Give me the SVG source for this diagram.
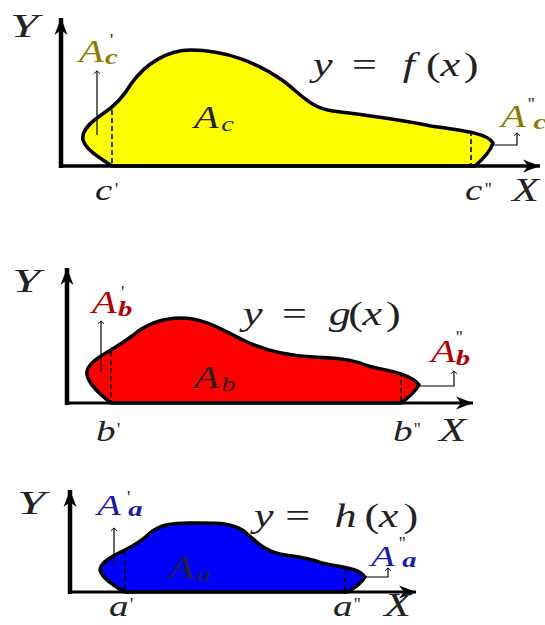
<svg xmlns="http://www.w3.org/2000/svg" width="545" height="625" viewBox="0 0 545 625">
<defs>
<marker id="ah" viewBox="-5 -5 10 10" markerWidth="8" markerHeight="8" markerUnits="userSpaceOnUse" orient="auto" refX="0" refY="0">
<path d="M-3.5,3.5 Q-1,0 0,0 Q1,0 3.5,3.5" transform="rotate(90)" fill="none" stroke="#000" stroke-width="1.2"/>
</marker>
<marker id="axh" viewBox="-17 -7 18 14" markerWidth="18" markerHeight="14" markerUnits="userSpaceOnUse" orient="auto" refX="0" refY="0">
<path d="M0,0 L-17,-6.5 L-12,0 L-17,6.5 Z" fill="#000"/>
</marker>
</defs>
<style>
.ax{stroke:#000;fill:none;stroke-linecap:butt}
.shape{stroke:#000;stroke-width:3.5;stroke-linejoin:round}
.dash{stroke:#000;stroke-width:1.6;stroke-dasharray:5,3;fill:none}
.con{stroke:#000;stroke-width:1.2;fill:none;marker-end:url(#ah)}
.t{font-family:"Liberation Serif","DejaVu Serif",serif;fill:#222}
.i{font-style:italic}
.bi{font-style:italic;font-weight:bold}
.big{font-size:34px}
.mid{font-size:30px}
.pr{font-family:"Liberation Serif","DejaVu Serif",serif;font-size:18px;fill:#222}
.lc{fill:#8c7d00}
.lb{fill:#b40000}
.la{fill:#1a1aa8}
</style>

<!-- Panel 1 -->
<g id="panel-c">
<path class="shape" fill="#ffff00" d="M112,166 C100,158 86,150 83,140 C81,130 92,121 104,113 C116,105 124,96 131,84 C146,63 168,50 191,50 C225,50 258,63 282,80 C300,93 310,108 333,111 C365,115 400,119 431,126 C460,130 488,133 493,143 C490,152 482,160 475,166 Z"/>
<line class="dash" x1="112" y1="110" x2="112" y2="166"/>
<line class="dash" x1="471" y1="131" x2="471" y2="166"/>
<line class="ax" x1="61" y1="168" x2="61" y2="18" stroke-width="4.5" marker-end="url(#axh)"/>
<line class="ax" x1="59" y1="166" x2="540" y2="166" stroke-width="3.5" marker-end="url(#axh)"/>
<text class="t i big" transform="translate(10,37) scale(1.5,1)">Y</text>
<text class="t i big" transform="translate(512,201) scale(1.3,1)">X</text>
<text class="t i mid" transform="translate(95,200) scale(1.3,1)">c</text>
<text class="pr" x="115" y="196">'</text>
<text class="t i mid" transform="translate(465,200) scale(1.3,1)">c</text>
<text class="pr" x="485" y="196">''</text>
<text class="t big" transform="translate(313,76) scale(1.3,1)"><tspan class="i" x="0">y</tspan><tspan x="30">=</tspan><tspan class="i" x="69">f</tspan><tspan x="87">(</tspan><tspan class="i" x="98">x</tspan><tspan x="116">)</tspan></text>
<text class="t" transform="translate(194,128) scale(1.3,1)"><tspan class="i" font-size="31">A</tspan><tspan class="i" font-size="22" x="21" dy="3">c</tspan></text>
</g>
<g id="label-c1">
<path class="con" d="M97,135 L97,71"/>
<text class="t lc" transform="translate(79,62) scale(1.3,1)"><tspan class="i" font-size="31">A</tspan><tspan class="bi" font-size="22" x="20" dy="2">c</tspan></text>
<text class="pr" x="110" y="47">'</text>
</g>
<g id="label-c2">
<path class="con" d="M493,145 L517,145 L517,133"/>
<text class="t lc" transform="translate(501,127) scale(1.3,1)"><tspan class="i" font-size="31">A</tspan><tspan class="bi" font-size="22" x="25" dy="2">c</tspan></text>
<text class="pr" x="528" y="111">''</text>
</g>

<!-- Panel 2 -->
<g id="panel-b">
<path class="shape" fill="#ff0000" d="M111,403 C101,395 89,385 87,375 C85,365 99,357 111,350 C119,345 124,342 132,336 C145,325 162,318 181,318 C205,318 224,331 245,341 C266,351 290,356 313,357 C335,358 352,359 365,365 C380,370 410,372 419,385 C415,392 408,398 401,403 Z"/>
<line class="dash" x1="111" y1="352" x2="111" y2="403"/>
<line class="dash" x1="401" y1="372" x2="401" y2="403"/>
<line class="ax" x1="67" y1="405" x2="67" y2="268" stroke-width="4.5" marker-end="url(#axh)"/>
<line class="ax" x1="65" y1="403" x2="473" y2="403" stroke-width="3" marker-end="url(#axh)"/>
<text class="t i big" transform="translate(12,292) scale(1.5,1)">Y</text>
<text class="t i big" transform="translate(439,441) scale(1.3,1)">X</text>
<text class="t i mid" transform="translate(96,441) scale(1.3,1)">b</text>
<text class="pr" x="117" y="436">'</text>
<text class="t i mid" transform="translate(393,441) scale(1.3,1)">b</text>
<text class="pr" x="414" y="436">''</text>
<text class="t big" transform="translate(243,325) scale(1.3,1)"><tspan class="i" x="0">y</tspan><tspan x="30">=</tspan><tspan class="i" x="66">g</tspan><tspan x="81">(</tspan><tspan class="i" x="92">x</tspan><tspan x="110">)</tspan></text>
<text class="t" transform="translate(194,388) scale(1.3,1)"><tspan class="i" font-size="31">A</tspan><tspan class="i" font-size="22" x="21" dy="3">b</tspan></text>
</g>
<g id="label-b1">
<path class="con" d="M101,372 L101,321"/>
<text class="t lb" transform="translate(92,313) scale(1.3,1)"><tspan class="i" font-size="31">A</tspan><tspan class="bi" font-size="22" x="20" dy="3">b</tspan></text>
<text class="pr" x="121" y="299">'</text>
</g>
<g id="label-b2">
<path class="con" d="M419,386 L454,386 L454,371"/>
<text class="t lb" transform="translate(431,362) scale(1.3,1)"><tspan class="i" font-size="31">A</tspan><tspan class="bi" font-size="22" x="19" dy="3">b</tspan></text>
<text class="pr" x="456" y="344">''</text>
</g>

<!-- Panel 3 -->
<g id="panel-a">
<path class="shape" fill="#0000ff" d="M125,592 C114,586 102,578 100,570 C101,562 112,556 125,550 C135,545 143,540 150,533 C160,525 170,523 190,523 C215,523 232,522 245,532 C258,543 265,552 285,555 C300,557 310,558 322,563 C338,567 358,567 365,577 C361,584 355,588 347,592 Z"/>
<line class="dash" x1="125" y1="552" x2="125" y2="592"/>
<line class="dash" x1="345" y1="570" x2="345" y2="592"/>
<line class="ax" x1="70" y1="594" x2="70" y2="490" stroke-width="4.5" marker-end="url(#axh)"/>
<line class="ax" x1="68" y1="592" x2="416" y2="592" stroke-width="3" marker-end="url(#axh)"/>
<text class="t i big" transform="translate(17,514) scale(1.5,1)">Y</text>
<text class="t i big" transform="translate(384,616) scale(1.3,1)">X</text>
<text class="t i mid" transform="translate(109,616) scale(1.3,1)">a</text>
<text class="pr" x="130" y="611">'</text>
<text class="t i mid" transform="translate(333,616) scale(1.3,1)">a</text>
<text class="pr" x="354" y="611">''</text>
<text class="t big" transform="translate(254,527) scale(1.3,1)"><tspan class="i" x="0">y</tspan><tspan x="24">=</tspan><tspan class="i" x="62">h</tspan><tspan x="85">(</tspan><tspan class="i" x="96">x</tspan><tspan x="115">)</tspan></text>
<text class="t" transform="translate(169,578) scale(1.3,1)"><tspan class="i" font-size="31">A</tspan><tspan class="i" font-size="22" x="21" dy="3">a</tspan></text>
</g>
<g id="label-a1">
<path class="con" d="M114,565 L114,528"/>
<text class="t la" transform="translate(97,515) scale(1.3,1)"><tspan class="i" font-size="30">A</tspan><tspan class="bi" font-size="22" x="24" dy="1">a</tspan></text>
<text class="pr" x="127" y="504">'</text>
</g>
<g id="label-a2">
<path class="con" d="M365,577 L388,577 L388,568"/>
<text class="t la" transform="translate(371,566) scale(1.3,1)"><tspan class="i" font-size="30">A</tspan><tspan class="bi" font-size="22" x="24" dy="1">a</tspan></text>
<text class="pr" x="399" y="550">''</text>
</g>
</svg>
